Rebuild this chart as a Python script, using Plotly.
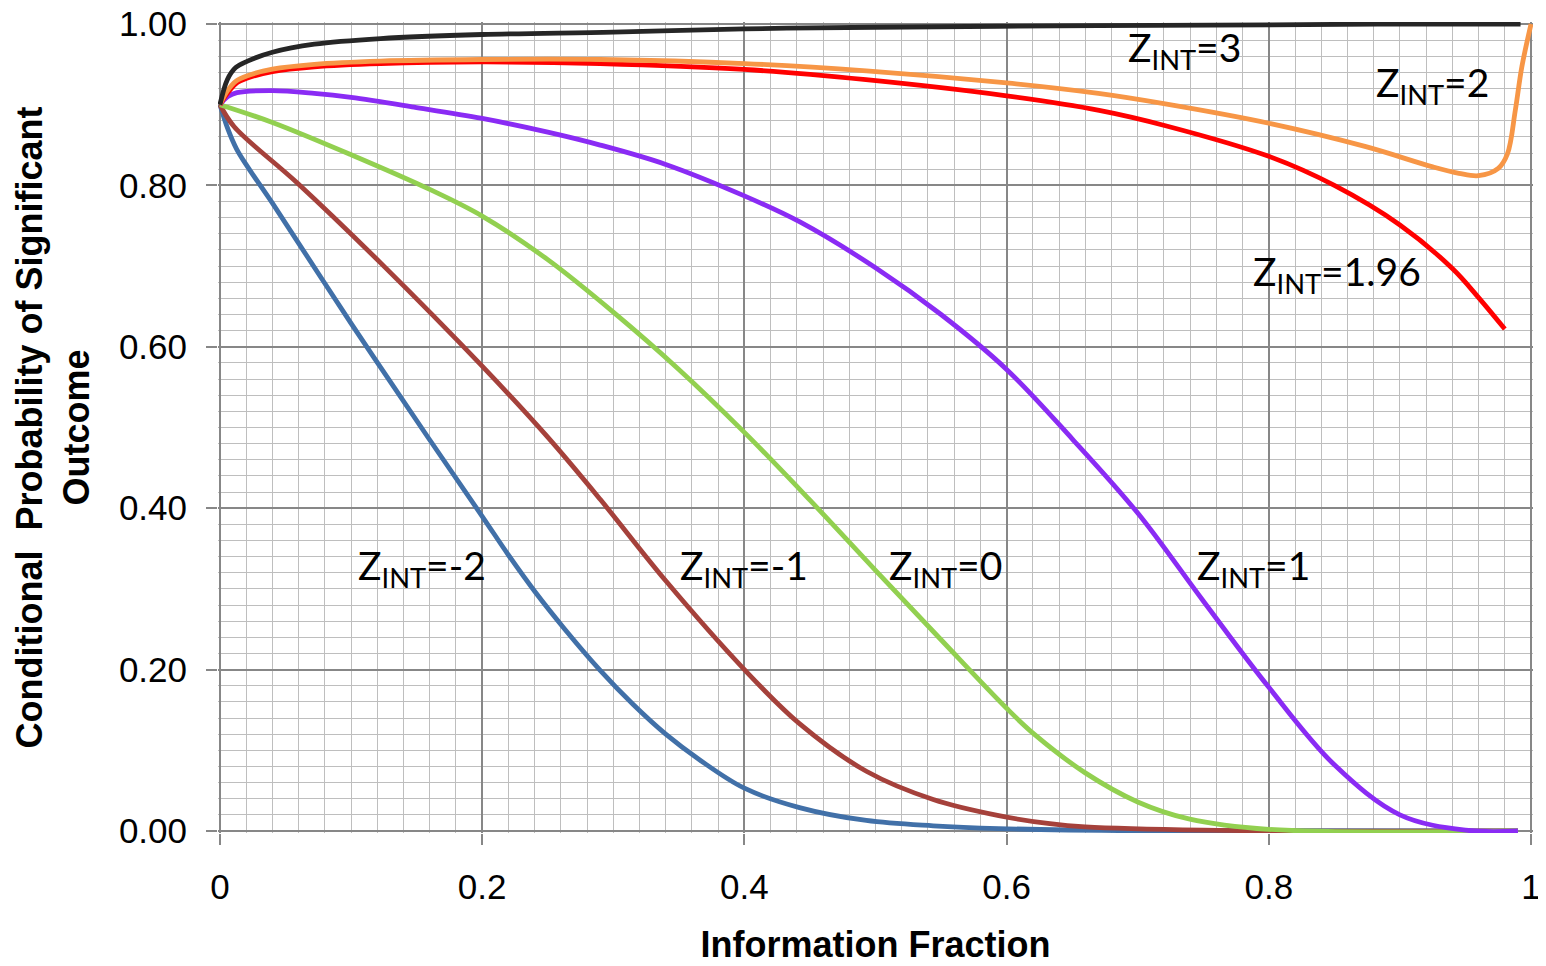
import plotly.graph_objects as go

# Information fraction (x) and conditional probability (y)
x_m2 = [0, 0.006, 0.0127, 0.0215, 0.04, 0.1, 0.159, 0.2, 0.22, 0.24, 0.263, 0.29, 0.315, 0.34, 0.366, 0.4, 0.442, 0.493, 0.544, 0.594, 0.7, 0.99]
y_m2 = [0.9, 0.87, 0.845, 0.822, 0.778, 0.629, 0.487, 0.39, 0.342, 0.297, 0.25, 0.199, 0.157, 0.12, 0.088, 0.053, 0.029, 0.013, 0.0064, 0.003, 0.0005, 0.0]

x_m1 = [0, 0.0107, 0.059, 0.1225, 0.2, 0.25, 0.29, 0.34, 0.4, 0.442, 0.493, 0.544, 0.594, 0.633, 0.66, 0.75, 0.99]
y_m1 = [0.9, 0.873, 0.803, 0.704, 0.576, 0.488, 0.411, 0.31, 0.2, 0.133, 0.074, 0.039, 0.019, 0.009, 0.005, 0.001, 0.0]

x_0 = [0, 0.04, 0.1, 0.16, 0.2, 0.25, 0.3, 0.35, 0.4, 0.45, 0.5, 0.55, 0.6, 0.621, 0.66, 0.70, 0.739, 0.8, 0.99]
y_0 = [0.9, 0.878, 0.838, 0.795, 0.762, 0.708, 0.643, 0.572, 0.494, 0.41, 0.323, 0.237, 0.152, 0.12, 0.072, 0.036, 0.015, 0.002, 0.0]

x_1 = [0, 0.006, 0.013, 0.04, 0.072, 0.1, 0.148, 0.2, 0.25, 0.29, 0.34, 0.4, 0.442, 0.5, 0.55, 0.6, 0.65, 0.7, 0.75, 0.8, 0.85, 0.9, 0.95, 0.99]
y_1 = [0.9, 0.91, 0.915, 0.9175, 0.914, 0.909, 0.897, 0.883, 0.866, 0.85, 0.826, 0.787, 0.755, 0.698, 0.64, 0.572, 0.486, 0.394, 0.285, 0.178, 0.082, 0.02, 0.001, 0.0]

x_196 = [0, 0.0056, 0.012, 0.021, 0.04, 0.072, 0.1225, 0.2, 0.29, 0.4, 0.4927, 0.6, 0.6706, 0.7212, 0.8, 0.85, 0.9, 0.94, 0.96, 0.98]
y_196 = [0.9, 0.914, 0.926, 0.933, 0.941, 0.947, 0.951, 0.953, 0.951, 0.9437, 0.931, 0.911, 0.893, 0.874, 0.836, 0.8, 0.751, 0.697, 0.661, 0.622]

x_2 = [0, 0.0056, 0.012, 0.021, 0.04, 0.072, 0.1225, 0.2, 0.29, 0.4, 0.493, 0.6, 0.67, 0.721, 0.8, 0.874, 0.925, 0.945, 0.96, 0.975, 0.982, 0.988, 0.993, 1.0]
y_2 = [0.9, 0.917, 0.929, 0.936, 0.944, 0.95, 0.954, 0.956, 0.956, 0.951, 0.942, 0.927, 0.914, 0.901, 0.877, 0.848, 0.823, 0.815, 0.812, 0.821, 0.839, 0.893, 0.947, 1.0]

x_3 = [0, 0.0056, 0.012, 0.021, 0.04, 0.072, 0.1225, 0.2, 0.3, 0.4, 0.5, 0.67, 0.8, 0.9, 0.992]
y_3 = [0.9, 0.931, 0.946, 0.954, 0.965, 0.975, 0.982, 0.987, 0.990, 0.994, 0.996, 0.998, 0.999, 1.0, 1.0]

series = [
    ("Z_INT=-2", x_m2, y_m2, "#4170A8"),
    ("Z_INT=-1", x_m1, y_m1, "#A5413B"),
    ("Z_INT=0", x_0, y_0, "#92D050"),
    ("Z_INT=1", x_1, y_1, "#8A2BF4"),
    ("Z_INT=1.96", x_196, y_196, "#FF0000"),
    ("Z_INT=2", x_2, y_2, "#F79646"),
    ("Z_INT=3", x_3, y_3, "#262626"),
]

label_text = ["Z<sub>INT</sub>=3", "Z<sub>INT</sub>=2", "Z<sub>INT</sub>=1.96",
              "Z<sub>INT</sub>=-2", "Z<sub>INT</sub>=-1", "Z<sub>INT</sub>=0", "Z<sub>INT</sub>=1"]
label_x = [0.7357, 0.925, 0.8517, 0.154, 0.3997, 0.5534, 0.788]
label_y = [0.968, 0.924, 0.690, 0.3265, 0.3265, 0.3265, 0.3265]

fig = go.Figure()
for name, xs, ys, col in series:
    fig.add_trace(go.Scatter(x=xs, y=ys, mode="lines", name=name,
                             line=dict(color=col, width=4.8, shape="spline", smoothing=1.0)))

for t, ax, ay in zip(label_text, label_x, label_y):
    fig.add_annotation(x=ax, y=ay, text=t, showarrow=False, xanchor="center", yanchor="middle",
                       font=dict(family="Lato", size=39, color="black"))

major = "#878787"
minor = "#BEBEBE"
# page body has an 8px default margin, so the figure is drawn 8px in and 8px down
fig.update_layout(
    width=1538, height=958,
    margin=dict(l=210, r=13, t=14, b=133),
    paper_bgcolor="white", plot_bgcolor="white",
    showlegend=False,
    font=dict(family="Liberation Sans", size=35, color="black"),
)
fig.update_xaxes(
    range=[-0.0015, 1.0015], dtick=0.2, tick0=0, automargin=False, ticklabeloverflow="allow",
    showgrid=True, gridcolor=major, gridwidth=1.5,
    zeroline=True, zerolinecolor=major, zerolinewidth=1.5,
    showline=False, ticks="outside", ticklen=11, tickcolor=major, tickwidth=1.5,
    ticklabelstandoff=12,
    minor=dict(dtick=0.02, tick0=0, showgrid=True, gridcolor=minor, gridwidth=1.2, ticks=""),
    tickfont=dict(family="Liberation Sans", size=35),
    title=dict(text="<b>Information Fraction</b>", font=dict(family="Liberation Sans", size=36), standoff=26),
)
fig.update_yaxes(
    range=[-0.0025, 1.0025], dtick=0.2, tick0=0, tickformat=".2f", automargin=False, ticklabeloverflow="allow",
    showgrid=True, gridcolor=major, gridwidth=1.5,
    zeroline=True, zerolinecolor=major, zerolinewidth=1.5,
    showline=False, ticks="outside", ticklen=11, tickcolor=major, tickwidth=1.5,
    ticklabelstandoff=12,
    minor=dict(dtick=0.02, tick0=0, showgrid=True, gridcolor=minor, gridwidth=1.2, ticks=""),
    tickfont=dict(family="Liberation Sans", size=35),
    title=dict(text="<b>Conditional  Probability of Significant<br>Outcome</b>",
               font=dict(family="Liberation Sans", size=36), standoff=18),
)

fig.write_html("out.html")
